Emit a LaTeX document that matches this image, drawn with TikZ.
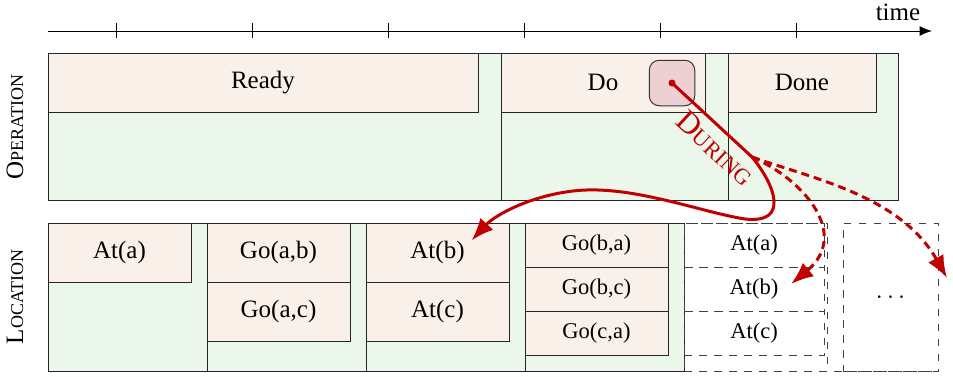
\documentclass[tikz,border=0pt]{standalone}
\usepackage{fontspec}
\setmainfont{Liberation Serif}
\usetikzlibrary{arrows.meta, positioning}
\definecolor{cellpeach}{RGB}{250,240,234}
\definecolor{lanegreen}{RGB}{236,247,235}
\definecolor{duringred}{RGB}{192,0,0}
\definecolor{trigpink}{RGB}{237,208,211}
\newcommand\fakesc[2]{#1\scalebox{0.72}{#2}}

\begin{document}
\begin{tikzpicture}[
        x=0.4pt, y=-0.4pt,
        node distance=0pt,
        oplane/.style={rectangle, draw=black!85, fill=lanegreen, inner sep=0pt, outer sep=0pt, minimum height=58.8pt},
        loclane/.style={rectangle, draw=black!85, fill=lanegreen, inner sep=0pt, outer sep=0pt, minimum width=63.6pt, minimum height=59.2pt},
        futlane/.style={rectangle, draw=black!75, dashed, inner sep=0pt, outer sep=0pt, minimum height=59.2pt},
        cell/.style={rectangle, draw=black!85, fill=cellpeach, inner sep=0pt, outer sep=0pt, minimum width=57.2pt, minimum height=23.6pt},
        thincell/.style={cell, minimum height=17.6pt, font=\small},
        futcell/.style={rectangle, draw=black!75, dashed, inner sep=0pt, outer sep=0pt, minimum width=56pt, minimum height=17.6pt, font=\small},
        during/.style={draw=duringred, line width=1.2pt, -{Latex[length=9pt,width=7pt]}},
        maybe/.style={during, dash pattern=on 3.2pt off 2pt}
    ]
        \useasboundingbox (0,0) rectangle (953,376);

        % time axis
        \coordinate (tstart) at (48,31);
        \coordinate (tend) at (932,31);
        \draw[-{Latex[length=5pt,width=4pt]}] (tstart) -- (tend);
        \foreach \x in {116,252,...,796}
            \draw (\x,23) -- (\x,38);
        \node (timelabel) at (898,12) {time};

        % operation lanes
        \node[oplane, anchor=north west, minimum width=181.2pt] (readylane) at (48,53) {};
        \node[oplane, right=of readylane, minimum width=90.8pt] (dolane) {};
        \node[oplane, right=of dolane, minimum width=68pt] (donelane) {};
        \node[cell, anchor=north west, minimum width=172pt] (ready) at (readylane.north west) {Ready};
        \node[cell, anchor=north west, minimum width=81.6pt] (do) at (dolane.north west) {Do};
        \node[cell, anchor=north west, minimum width=59.2pt] (done) at (donelane.north west) {Done};

        % location lanes
        \node[loclane, anchor=north west] (lane1) at (48,223) {};
        \node[loclane, right=of lane1] (lane2) {};
        \node[loclane, right=of lane2] (lane3) {};
        \node[loclane, right=of lane3] (lane4) {};
        \node[futlane, right=of lane4, minimum width=57.2pt] (lane5) {};
        \node[futlane, right=6.4pt of lane5, minimum width=38pt] (lane6) {};
        \draw[draw=black!75, dashed] (lane5.south west) -- (lane6.south east);

        \node[cell, anchor=north west] (ata) at (lane1.north west) {At(a)};
        \node[cell, anchor=north west] (goab) at (lane2.north west) {Go(a,b)};
        \node[cell, below=of goab] (goac) {Go(a,c)};
        \node[cell, anchor=north west] (atb) at (lane3.north west) {At(b)};
        \node[cell, below=of atb] (atc) {At(c)};
        \node[thincell, anchor=north west] (goba) at (lane4.north west) {Go(b,a)};
        \node[thincell, below=of goba] (gobc) {Go(b,c)};
        \node[thincell, below=of gobc] (goca) {Go(c,a)};
        \node[futcell, anchor=north west] (nexta) at (lane5.north west) {At(a)};
        \node[futcell, below=of nexta] (nextb) {At(b)};
        \node[futcell, below=of nextb] (nextc) {At(c)};
        \node (etc) at (lane6.center) {$\ldots$};

        % side labels
        \node[rotate=90] (oplabel) at (15,127) {\fakesc{O}{PERATION}};
        \node[rotate=90] (loclabel) at (15,297) {\fakesc{L}{OCATION}};

        % trigger inside Do
        \node[draw=black!80, fill=trigpink, rounded corners=4pt, minimum size=18.2pt] (trig) at (672,83) {};
        \fill[duringred] (trig.center) circle (1.4pt);
        \coordinate (split) at (752,157);

        \draw[during] (trig.center)
            -- node[sloped, below=1.5pt, pos=0.7, text=duringred, inner sep=1pt, font=\fontsize{12.5}{14}\selectfont] {\fakesc{D}{URING}} (split)
            .. controls (775,185) and (790,224) .. (745,219)
            .. controls (700,212) and (630,184) .. (573,191)
            .. controls (530,196) and (495,215) .. ([shift={(34,-12)}]atb.center);
        \draw[maybe] (split) .. controls (805,180) and (850,235) .. ([shift={(37,-5)}]nextb.center);
        \draw[maybe] (split) .. controls (810,178) and (900,195) .. ([shift={(9,-19)}]lane6.east);
    \end{tikzpicture}
\end{document}
